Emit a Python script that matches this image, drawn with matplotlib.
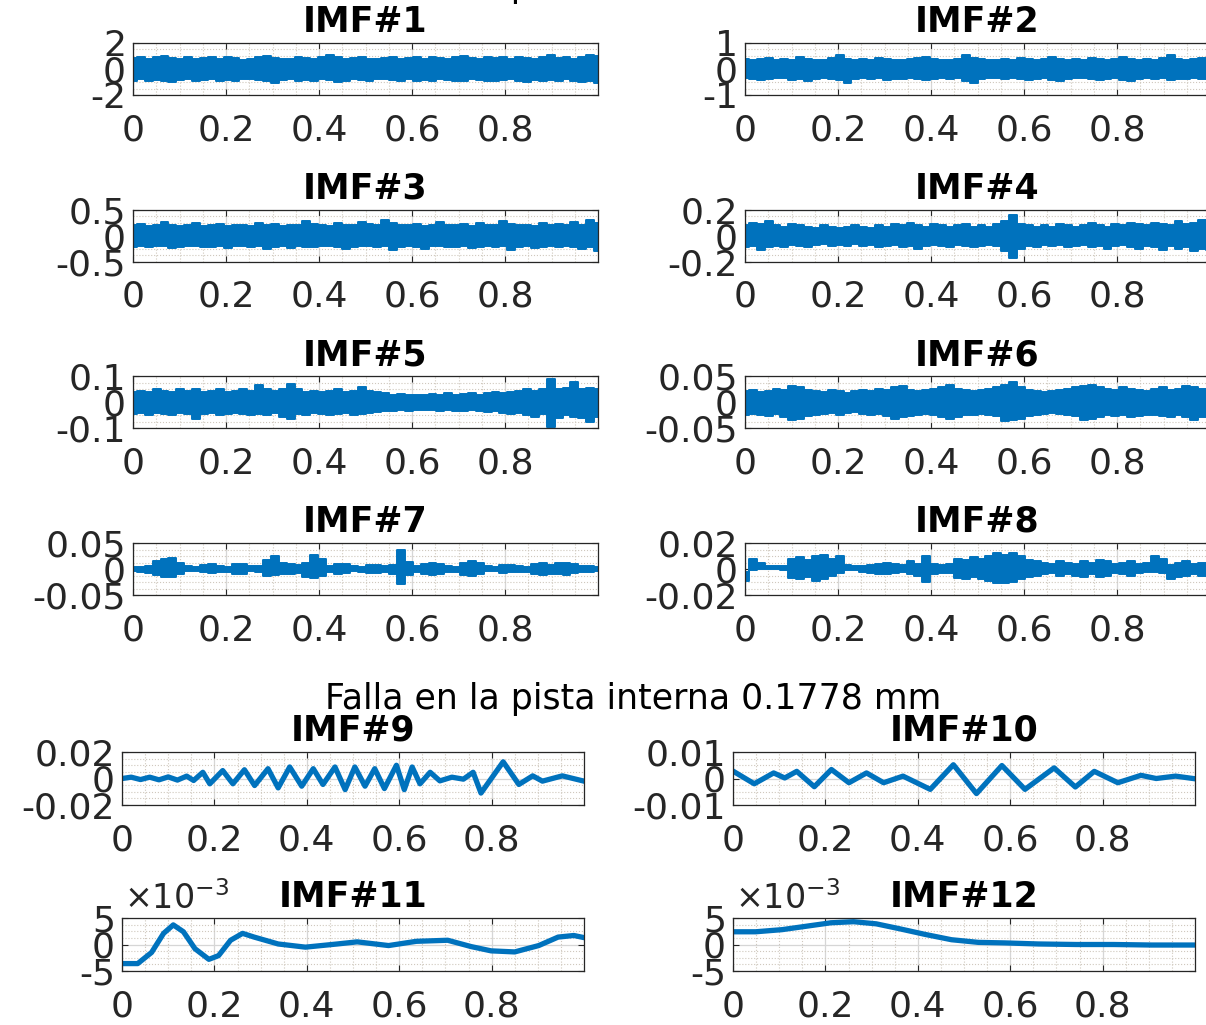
"""IMF panels for the inner-race fault signal (0.1778 mm).

Twelve intrinsic mode functions laid out in a 2-column grid, MATLAB-like
styling (boxed axes, inward ticks, major + minor grid).
"""

import matplotlib

matplotlib.use("Agg", force=True)

import matplotlib.pyplot as plt
import numpy as np
from matplotlib.ticker import AutoMinorLocator, FuncFormatter

plt.rcParams["font.family"] = ["DejaVu Sans"]
plt.rcParams["mathtext.fontset"] = "dejavusans"
plt.rcParams["axes.unicode_minus"] = False

TITLE = "Falla en la pista interna 0.1778 mm"
XTICKS = [0, 0.2, 0.4, 0.6, 0.8]

# Envelopes (upper / lower) of the fast IMFs, 60 samples across t = 0..1
IMF1_UP = [0.85, 0.95, 0.8, 0.9, 1.0, 0.85, 0.8, 0.9, 0.75, 0.85, 0.95, 0.8, 0.9, 0.85, 0.7,
           0.8, 0.9, 1.0, 0.85, 0.8, 0.75, 0.9, 0.85, 0.8, 0.95, 1.05, 0.9, 0.8, 0.85, 0.9,
           0.8, 0.75, 0.85, 0.9, 0.8, 0.85, 0.95, 0.8, 0.9, 0.85, 0.8, 0.9, 1.0, 0.85, 0.8,
           0.9, 0.85, 0.95, 0.8, 0.9, 0.85, 0.8, 0.9, 1.05, 0.85, 0.9, 0.8, 0.95, 1.1, 1.0]
IMF1_LO = [-0.9, -0.8, -0.95, -0.85, -0.9, -1.0, -0.85, -0.8, -0.9, -0.85, -0.8, -0.95, -0.85,
           -0.9, -0.8, -0.75, -0.85, -0.95, -1.05, -0.85, -0.8, -0.9, -0.85, -0.9, -0.8, -0.85,
           -1.0, -0.9, -0.8, -0.85, -0.95, -0.8, -0.75, -0.85, -0.9, -0.8, -0.95, -0.85, -0.9,
           -0.8, -0.85, -0.95, -0.9, -0.8, -0.85, -0.9, -0.95, -0.85, -0.8, -0.9, -1.0, -0.85,
           -0.9, -0.85, -0.95, -0.8, -0.9, -1.0, -0.95, -1.05]

IMF2_UP = [0.38, 0.33, 0.38, 0.42, 0.35, 0.38, 0.33, 0.48, 0.38, 0.35, 0.33, 0.42, 0.52, 0.38,
           0.35, 0.38, 0.33, 0.42, 0.38, 0.35, 0.33, 0.38, 0.42, 0.48, 0.38, 0.33, 0.35, 0.38,
           0.52, 0.42, 0.38, 0.33, 0.35, 0.38, 0.33, 0.42, 0.38, 0.35, 0.38, 0.48, 0.38, 0.33,
           0.38, 0.35, 0.42, 0.38, 0.33, 0.38, 0.48, 0.38, 0.35, 0.38, 0.33, 0.42, 0.52, 0.38,
           0.35, 0.38, 0.42, 0.38]
IMF2_LO = [-0.35, -0.38, -0.42, -0.38, -0.33, -0.35, -0.42, -0.38, -0.48, -0.38, -0.35, -0.38,
           -0.42, -0.52, -0.38, -0.33, -0.38, -0.35, -0.42, -0.38, -0.38, -0.33, -0.38, -0.42,
           -0.38, -0.35, -0.38, -0.33, -0.48, -0.52, -0.38, -0.35, -0.33, -0.38, -0.35, -0.38,
           -0.42, -0.38, -0.35, -0.42, -0.48, -0.38, -0.35, -0.33, -0.38, -0.42, -0.38, -0.35,
           -0.42, -0.48, -0.38, -0.33, -0.38, -0.35, -0.42, -0.38, -0.38, -0.35, -0.38, -0.33]

IMF3_UP = [0.2, 0.22, 0.19, 0.21, 0.26, 0.2, 0.18, 0.21, 0.24, 0.19, 0.2, 0.22, 0.18, 0.2,
           0.21, 0.19, 0.25, 0.2, 0.22, 0.19, 0.21, 0.2, 0.28, 0.22, 0.2, 0.19, 0.24, 0.21, 0.2,
           0.26, 0.22, 0.2, 0.31, 0.24, 0.21, 0.2, 0.22, 0.19, 0.21, 0.26, 0.21, 0.2, 0.22,
           0.19, 0.24, 0.21, 0.2, 0.29, 0.22, 0.2, 0.21, 0.19, 0.24, 0.2, 0.22, 0.21, 0.26, 0.2,
           0.3, 0.24]
IMF3_LO = [-0.21, -0.19, -0.22, -0.2, -0.19, -0.24, -0.21, -0.2, -0.19, -0.22, -0.21, -0.19,
           -0.24, -0.2, -0.19, -0.21, -0.2, -0.26, -0.21, -0.2, -0.24, -0.19, -0.21, -0.22,
           -0.2, -0.19, -0.21, -0.26, -0.22, -0.2, -0.19, -0.21, -0.2, -0.28, -0.22, -0.2,
           -0.21, -0.26, -0.2, -0.19, -0.22, -0.21, -0.2, -0.24, -0.21, -0.19, -0.22, -0.2,
           -0.28, -0.21, -0.2, -0.24, -0.21, -0.19, -0.22, -0.2, -0.21, -0.26, -0.22, -0.3]

IMF4_UP = [0.08, 0.1, 0.09, 0.11, 0.08, 0.07, 0.09, 0.08, 0.07, 0.06, 0.08, 0.07, 0.06, 0.07,
           0.08, 0.07, 0.06, 0.08, 0.07, 0.09, 0.08, 0.1, 0.08, 0.07, 0.09, 0.08, 0.07, 0.08,
           0.09, 0.07, 0.08, 0.07, 0.09, 0.11, 0.16, 0.09, 0.08, 0.07, 0.08, 0.07, 0.09, 0.08,
           0.07, 0.08, 0.1, 0.08, 0.07, 0.09, 0.08, 0.1, 0.09, 0.08, 0.1, 0.09, 0.08, 0.11, 0.09,
           0.1, 0.12, 0.1]
IMF4_LO = [-0.09, -0.08, -0.11, -0.09, -0.08, -0.09, -0.07, -0.08, -0.09, -0.07, -0.06, -0.08,
           -0.07, -0.08, -0.06, -0.08, -0.07, -0.09, -0.08, -0.07, -0.09, -0.08, -0.1, -0.08,
           -0.07, -0.08, -0.09, -0.07, -0.08, -0.09, -0.08, -0.07, -0.08, -0.12, -0.17, -0.1,
           -0.08, -0.09, -0.07, -0.08, -0.07, -0.09, -0.08, -0.07, -0.09, -0.08, -0.1, -0.08,
           -0.07, -0.09, -0.1, -0.08, -0.09, -0.11, -0.08, -0.1, -0.09, -0.12, -0.1, -0.11]

IMF5_UP = [0.04, 0.045, 0.04, 0.05, 0.045, 0.04, 0.05, 0.045, 0.05, 0.04, 0.045, 0.05, 0.04,
           0.045, 0.05, 0.045, 0.065, 0.05, 0.045, 0.05, 0.07, 0.05, 0.04, 0.045, 0.04, 0.045,
           0.05, 0.04, 0.045, 0.06, 0.045, 0.04, 0.035, 0.03, 0.032, 0.03, 0.028, 0.03, 0.032,
           0.03, 0.035, 0.03, 0.032, 0.035, 0.03, 0.035, 0.04, 0.038, 0.04, 0.045, 0.05, 0.045,
           0.05, 0.09, 0.05, 0.055, 0.08, 0.05, 0.055, 0.05]
IMF5_LO = [-0.045, -0.04, -0.05, -0.04, -0.045, -0.05, -0.04, -0.045, -0.065, -0.045, -0.04,
           -0.05, -0.045, -0.04, -0.045, -0.05, -0.045, -0.05, -0.04, -0.055, -0.065, -0.045,
           -0.05, -0.04, -0.045, -0.05, -0.045, -0.04, -0.05, -0.045, -0.04, -0.038, -0.035,
           -0.032, -0.03, -0.032, -0.03, -0.028, -0.03, -0.032, -0.03, -0.035, -0.032, -0.03,
           -0.035, -0.038, -0.035, -0.04, -0.045, -0.04, -0.05, -0.055, -0.045, -0.095, -0.06,
           -0.05, -0.055, -0.06, -0.075, -0.055]

IMF6_UP = [0.022, 0.024, 0.02, 0.022, 0.026, 0.024, 0.032, 0.029, 0.024, 0.022, 0.02, 0.024,
           0.022, 0.019, 0.021, 0.024, 0.022, 0.026, 0.024, 0.029, 0.032, 0.024, 0.022, 0.024,
           0.026, 0.03, 0.034, 0.026, 0.024, 0.022, 0.024, 0.026, 0.029, 0.034, 0.039, 0.029,
           0.024, 0.022, 0.02, 0.022, 0.024, 0.026, 0.029, 0.032, 0.034, 0.029, 0.026, 0.024,
           0.029, 0.026, 0.024, 0.022, 0.026, 0.029, 0.024, 0.026, 0.032, 0.029, 0.026, 0.024]
IMF6_LO = [-0.024, -0.022, -0.024, -0.026, -0.022, -0.029, -0.034, -0.032, -0.026, -0.024,
           -0.022, -0.02, -0.024, -0.021, -0.019, -0.022, -0.024, -0.022, -0.026, -0.032,
           -0.029, -0.026, -0.024, -0.022, -0.024, -0.029, -0.032, -0.029, -0.024, -0.024,
           -0.022, -0.024, -0.026, -0.036, -0.034, -0.032, -0.026, -0.024, -0.022, -0.02,
           -0.022, -0.024, -0.026, -0.034, -0.032, -0.029, -0.024, -0.026, -0.024, -0.029,
           -0.026, -0.024, -0.024, -0.026, -0.029, -0.024, -0.029, -0.034, -0.029, -0.024]

IMF7_UP = [0.004, 0.004, 0.006, 0.015, 0.02, 0.022, 0.012, 0.005, 0.004, 0.008, 0.01, 0.006,
           0.004, 0.01, 0.009, 0.005, 0.005, 0.018, 0.026, 0.012, 0.01, 0.008, 0.012, 0.028,
           0.02, 0.006, 0.01, 0.009, 0.005, 0.004, 0.007, 0.008, 0.006, 0.008, 0.036, 0.014,
           0.005, 0.01, 0.012, 0.01, 0.006, 0.004, 0.012, 0.016, 0.012, 0.005, 0.004, 0.008,
           0.007, 0.005, 0.004, 0.01, 0.012, 0.008, 0.011, 0.012, 0.009, 0.006, 0.005, 0.004]
IMF7_LO = [-0.004, -0.005, -0.007, -0.012, -0.016, -0.015, -0.01, -0.004, -0.004, -0.006,
           -0.007, -0.005, -0.005, -0.01, -0.01, -0.004, -0.005, -0.013, -0.012, -0.01, -0.009,
           -0.008, -0.016, -0.018, -0.014, -0.005, -0.01, -0.008, -0.004, -0.005, -0.007,
           -0.008, -0.006, -0.01, -0.029, -0.012, -0.006, -0.01, -0.012, -0.009, -0.005, -0.005,
           -0.011, -0.013, -0.01, -0.004, -0.004, -0.007, -0.006, -0.005, -0.005, -0.01, -0.011,
           -0.009, -0.01, -0.012, -0.008, -0.006, -0.005, -0.004]

IMF8_UP = [-0.002, 0.008, 0.005, 0.002, 0.002, 0.002, 0.008, 0.009, 0.007, 0.01, 0.011, 0.008,
           0.01, 0.003, 0.002, 0.002, 0.003, 0.004, 0.005, 0.004, 0.003, 0.006, 0.004, 0.01,
           0.004, 0.003, 0.004, 0.008, 0.007, 0.009, 0.008, 0.01, 0.012, 0.011, 0.012, 0.01,
           0.007, 0.006, 0.005, 0.004, 0.006, 0.005, 0.004, 0.006, 0.005, 0.007, 0.006, 0.004,
           0.005, 0.006, 0.004, 0.005, 0.01, 0.008, 0.003, 0.005, 0.006, 0.004, 0.005, 0.004]
IMF8_LO = [-0.009, -0.001, 0.0, 0.0, 0.0, -0.001, -0.007, -0.008, -0.006, -0.009, -0.008,
           -0.005, -0.003, -0.001, -0.001, -0.002, -0.003, -0.004, -0.004, -0.003, -0.002,
           -0.004, -0.005, -0.01, -0.004, -0.003, -0.003, -0.007, -0.008, -0.006, -0.008,
           -0.009, -0.011, -0.011, -0.01, -0.008, -0.006, -0.005, -0.004, -0.003, -0.005,
           -0.004, -0.005, -0.006, -0.004, -0.006, -0.005, -0.003, -0.004, -0.005, -0.003,
           -0.002, -0.002, -0.003, -0.008, -0.006, -0.005, -0.004, -0.005, -0.004]

# Slow IMFs, traced as (t, amplitude) points
IMF9_T = [0.0, 0.02, 0.04, 0.06, 0.08, 0.1, 0.12, 0.14, 0.155, 0.175, 0.19, 0.218, 0.24,
          0.265, 0.287, 0.316, 0.338, 0.363, 0.389, 0.414, 0.435, 0.461, 0.483, 0.504, 0.526,
          0.547, 0.568, 0.594, 0.611, 0.628, 0.645, 0.667, 0.688, 0.714, 0.739, 0.76, 0.777,
          0.825, 0.859, 0.889, 0.91, 0.953, 1.0]
IMF9_Y = [0.0, 0.001, -0.0008, 0.001, -0.001, 0.0012, -0.0012, 0.0018, -0.0015, 0.0047,
          -0.004, 0.006, -0.004, 0.0066, -0.0053, 0.0074, -0.0071, 0.0087, -0.0058, 0.0074,
          -0.0045, 0.0087, -0.0084, 0.0087, -0.0058, 0.0074, -0.0076, 0.01, -0.0084, 0.0087,
          -0.004, 0.0047, -0.0018, 0.001, -0.0005, 0.0047, -0.011, 0.0126, -0.0045, 0.002,
          -0.002, 0.002, -0.002]

IMF10_T = [0.0, 0.046, 0.088, 0.112, 0.138, 0.176, 0.213, 0.251, 0.289, 0.326, 0.368, 0.427,
           0.477, 0.527, 0.582, 0.632, 0.695, 0.741, 0.782, 0.833, 0.883, 0.916, 0.958, 1.0]
IMF10_Y = [0.0028, -0.002, 0.0021, 0.0002, 0.0027, -0.0031, 0.0034, -0.0016, 0.0021, -0.0016,
           0.0009, -0.0041, 0.0052, -0.0057, 0.0049, -0.0041, 0.004, -0.0032, 0.0027, -0.0016,
           0.0012, 0.0, 0.0009, -0.0001]

IMF11_T = [0.0, 0.034, 0.064, 0.09, 0.111, 0.133, 0.158, 0.188, 0.209, 0.235, 0.261, 0.286,
           0.338, 0.397, 0.466, 0.509, 0.577, 0.637, 0.705, 0.756, 0.799, 0.85, 0.902, 0.944,
           0.978, 1.0]
IMF11_Y = [-0.0036, -0.0036, -0.0015, 0.0021, 0.0037, 0.0024, -0.0008, -0.0028, -0.0021,
           0.0008, 0.0021, 0.0014, 0.0001, -0.0005, 0.0001, 0.0005, -0.0002, 0.0006, 0.0008,
           -0.0004, -0.0012, -0.0014, -0.0002, 0.0014, 0.0017, 0.0013]

IMF12_T = [0.0, 0.049, 0.106, 0.163, 0.212, 0.261, 0.31, 0.359, 0.416, 0.473, 0.531, 0.588,
           0.661, 0.743, 0.824, 0.906, 1.0]
IMF12_Y = [0.0024, 0.0024, 0.0028, 0.0035, 0.0041, 0.0043, 0.0039, 0.003, 0.0019, 0.0009,
           0.0004, 0.0003, 0.0001, 0.0, 0.0, -0.0001, -0.0001]

YLIMS = [2, 1, 0.5, 0.2, 0.1, 0.05, 0.05, 0.02, 0.02, 0.01, 0.005, 0.005]

BLUE = "#0072BD"
FIG_W, FIG_H = 1206, 1025
TICK_FS, TITLE_FS = 26, 25


def _rect(left, top, width, height):
    """Pixel box (from top-left) -> figure fraction rect."""
    return [left / FIG_W, 1 - (top + height) / FIG_H, width / FIG_W, height / FIG_H]


def _style(ax, lim, sci=False):
    ax.set_xlim(0, 1)
    ax.set_ylim(-lim, lim)
    ax.set_xticks(XTICKS)
    ax.set_yticks([-lim, 0, lim])
    ax.xaxis.set_minor_locator(AutoMinorLocator(4))
    ax.yaxis.set_minor_locator(AutoMinorLocator(4))
    ax.xaxis.set_major_formatter(FuncFormatter(lambda v, _: f"{v:g}"))
    if sci:
        ax.yaxis.set_major_formatter(FuncFormatter(lambda v, _: f"{v * 1e3:g}"))
        ax.text(0.005, 1.03, r"$\times10^{-3}$", transform=ax.transAxes,
                fontsize=24, color="#262626", ha="left", va="bottom")
    else:
        ax.yaxis.set_major_formatter(FuncFormatter(lambda v, _: f"{v:g}"))
    ax.grid(True, which="major", color="#d6d6d6", lw=0.9)
    ax.grid(True, which="minor", color="#cfc8bd", lw=0.8, ls=":")
    ax.set_axisbelow(True)
    ax.tick_params(which="both", direction="in", top=True, right=True,
                   colors="#262626", labelsize=TICK_FS)
    ax.tick_params(which="major", length=4, width=0.8)
    ax.tick_params(which="minor", length=0)
    ax.tick_params(axis="x", pad=13)
    ax.tick_params(axis="y", pad=5)
    for sp in ax.spines.values():
        sp.set_color("#262626")
        sp.set_linewidth(0.9)


fig = plt.figure(figsize=(FIG_W / 100, FIG_H / 100), dpi=100, facecolor="white")

bands = [(IMF1_UP, IMF1_LO), (IMF2_UP, IMF2_LO), (IMF3_UP, IMF3_LO), (IMF4_UP, IMF4_LO),
         (IMF5_UP, IMF5_LO), (IMF6_UP, IMF6_LO), (IMF7_UP, IMF7_LO), (IMF8_UP, IMF8_LO)]
curves = [(IMF9_T, IMF9_Y), (IMF10_T, IMF10_Y), (IMF11_T, IMF11_Y), (IMF12_T, IMF12_Y)]

# upper block: IMF 1..8
for k, (up, lo) in enumerate(bands):
    row, col = divmod(k, 2)
    left = (133, 745)[col]
    ax = fig.add_axes(_rect(left, 43 + row * 166.7, 465, 52))
    t = np.linspace(0, 1, len(up))
    ax.fill_between(t, lo, up, step="mid", color=BLUE, lw=1.4, edgecolor=BLUE)
    _style(ax, YLIMS[k])
    ax.set_title(f"IMF#{k + 1}", fontsize=TITLE_FS, fontweight="bold", pad=8)

# lower block: IMF 9..12
for k, (t, y) in enumerate(curves):
    row, col = divmod(k, 2)
    left = (122, 733)[col]
    ax = fig.add_axes(_rect(left, 752 + row * 166, 462, 53))
    ax.plot(t, y, color=BLUE, lw=3.8, solid_joinstyle="round")
    _style(ax, YLIMS[k + 8], sci=(k >= 2))
    ax.set_title(f"IMF#{k + 9}", fontsize=TITLE_FS, fontweight="bold", pad=8)

fig.text(633 / FIG_W, 1 - 709 / FIG_H, TITLE, fontsize=25, ha="center", va="baseline")
# the same heading for the upper block sits just above the page edge
fig.text(633 / FIG_W, 1 + 3 / FIG_H, TITLE, fontsize=25, ha="center", va="baseline")

fig.savefig("out.png", dpi=100, facecolor="white")
plt.close(fig)
